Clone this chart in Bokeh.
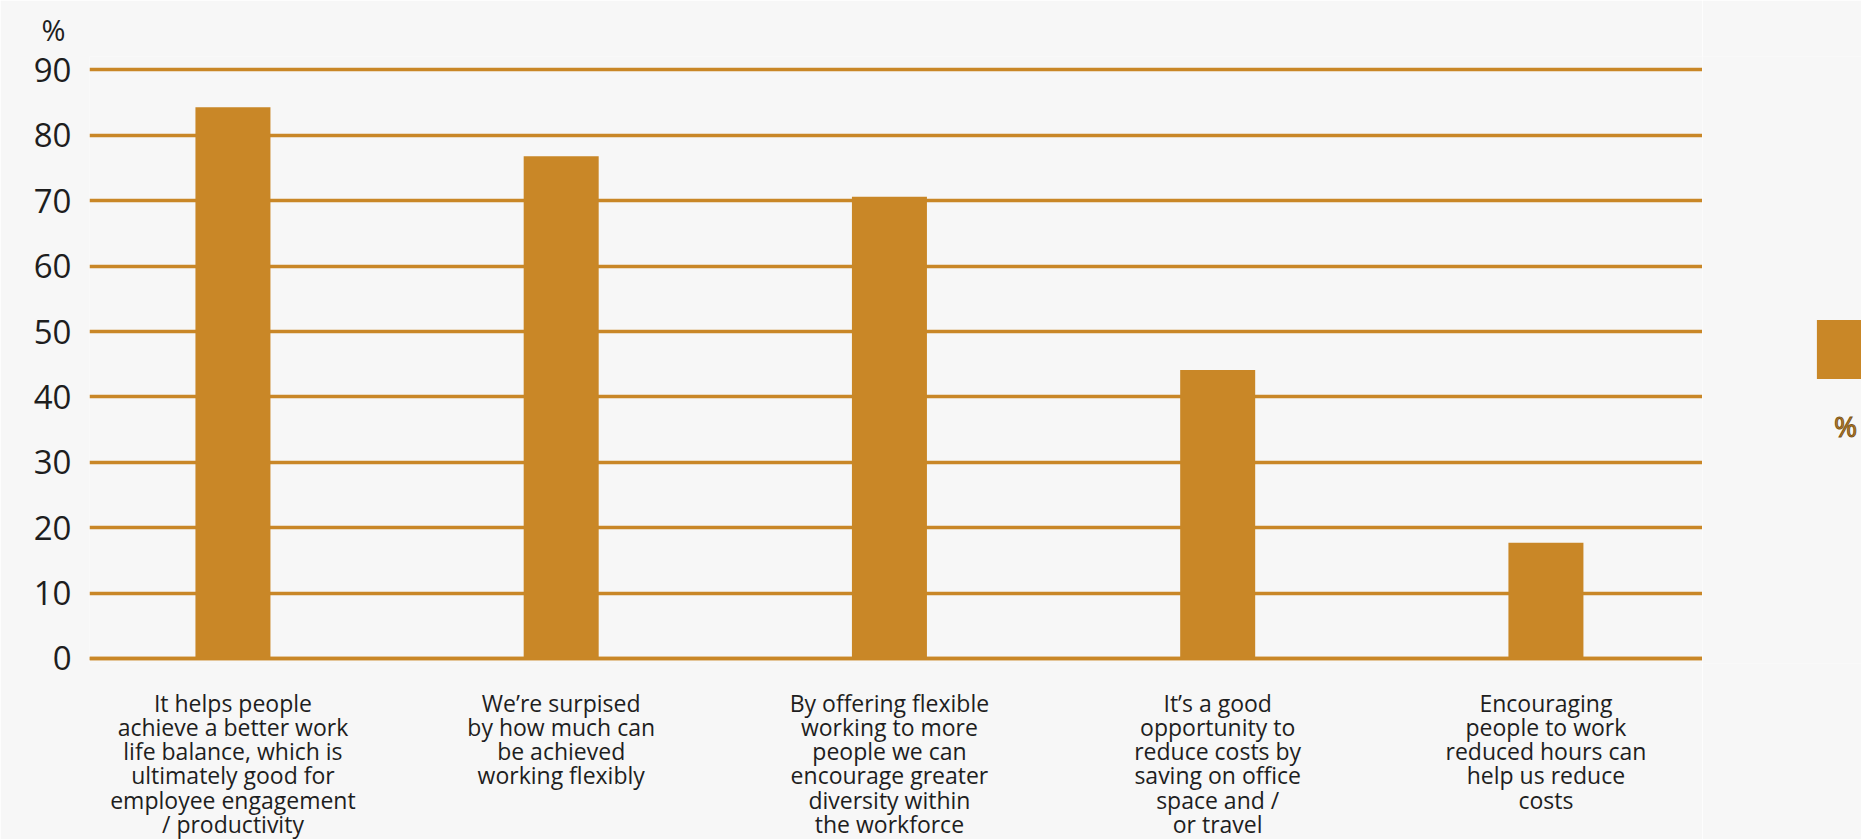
from bokeh.plotting import figure
from bokeh.layouts import row
from bokeh.models import Range1d, FixedTicker, Label, Span, Legend, LegendItem, ColumnDataSource
from bokeh.embed import file_html
from bokeh.resources import INLINE

categories = [
    "It helps people\nachieve a better work\nlife balance, which is\nultimately good for\nemployee engagement\n/ productivity",
    "We\u2019re surpised\nby how much can\nbe achieved\nworking flexibly",
    "By offering flexible\nworking to more\npeople we can\nencourage greater\ndiversity within\nthe workforce",
    "It\u2019s a good\nopportunity to\nreduce costs by\nsaving on office\nspace and /\nor travel",
    "Encouraging\npeople to work\nreduced hours can\nhelp us reduce\ncosts",
]
values = [84.3, 76.8, 70.6, 44.1, 17.7]
y_ticks = [0, 10, 20, 30, 40, 50, 60, 70, 80, 90]
series_name = "%"
y_unit = "%"

BAR = "#C98727"
BG = "#F7F7F7"
TXT = "#1E1E1E"
FONT = "Open Sans"

xs = list(range(len(categories)))
src = ColumnDataSource(dict(pos=xs, value=values))

p = figure(
    frame_width=1613, frame_height=607,
    x_range=Range1d(-0.437, 4.477), y_range=Range1d(-0.765, 92.06),
    output_backend="svg", toolbar_location=None,
    min_border_left=89, min_border_right=0, min_border_top=55, min_border_bottom=177,
    background_fill_color=BG, border_fill_color=BG, outline_line_color=None,
)

bars = p.vbar(x="pos", top="value", source=src, width=0.2285, bottom=0,
              fill_color=BAR, line_color=None)

p.xgrid.visible = False
p.ygrid.ticker = FixedTicker(ticks=y_ticks)
p.ygrid.grid_line_color = BAR
p.ygrid.grid_line_width = 3.5

p.add_layout(Span(location=0, dimension="width", line_color=BAR, line_width=3.5))

ya = p.yaxis[0]
ya.ticker = FixedTicker(ticks=y_ticks)
ya.axis_line_color = None
ya.major_tick_line_color = None
ya.minor_tick_line_color = None
ya.major_label_text_font = FONT
ya.major_label_text_font_size = "33px"
ya.major_label_text_color = TXT
ya.major_label_standoff = 12

xa = p.xaxis[0]
xa.ticker = FixedTicker(ticks=xs)
xa.major_label_overrides = {i: c for i, c in zip(xs, categories)}
xa.axis_line_color = None
xa.major_tick_line_color = None
xa.minor_tick_line_color = None
xa.major_label_text_font = FONT
xa.major_label_text_font_size = "23px"
xa.major_label_text_color = TXT
xa.major_label_text_line_height = 0.76
xa.major_label_standoff = 17

# y unit title
p.title.text = y_unit
p.title.align = "left"
p.title.offset = -48
p.title.text_font = FONT
p.title.text_font_size = "29px"
p.title.text_font_style = "normal"
p.title.text_color = TXT
p.title.standoff = 15

# legend panel on the right (frame aligned with main plot)
lp = figure(frame_width=159, frame_height=607, x_range=Range1d(0, 1), y_range=Range1d(0, 1),
            output_backend="svg", toolbar_location=None,
            x_axis_location=None, y_axis_location=None,
            min_border_left=0, min_border_right=0, min_border_top=55, min_border_bottom=177,
            background_fill_color=BG, border_fill_color=BG, outline_line_color=None)
lp.xgrid.visible = False
lp.ygrid.visible = False
swatch = lp.vbar(x="pos", top="value", source=src, width=0.2285,
                 fill_color=BAR, line_color=None, visible=False)
legend = Legend(items=[LegendItem(label=" ", renderers=[swatch])], location=(107, 277),
                padding=0, margin=0, glyph_width=74, glyph_height=74,
                label_width=0, label_standoff=0, spacing=0,
                label_text_font_size="1px",
                inactive_fill_alpha=0,
                border_line_color=None, background_fill_alpha=0)
lp.add_layout(legend)

lab_kw = dict(x=143, y=238, x_units="screen", y_units="screen", text=series_name,
              text_align="center", text_baseline="middle",
              text_font=FONT, text_font_size="28px", text_color=BAR)
if "text_outline_color" in Label.properties():
    lab_kw["text_outline_color"] = "#7a5418"
lp.add_layout(Label(**lab_kw))

layout = row(p, lp, spacing=0)
open("out.html", "w").write(file_html(layout, INLINE))
